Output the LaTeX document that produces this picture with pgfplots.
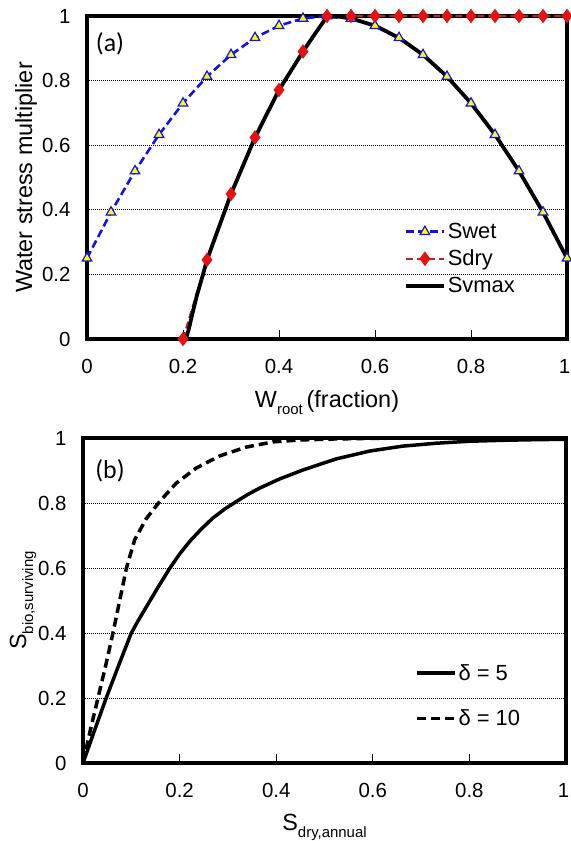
\documentclass[border=0pt]{standalone}
\usepackage{fontspec}
\setmainfont{Liberation Sans}
\newfontfamily\panelfont{Carlito}
\usepackage{pgfplots}
\pgfplotsset{compat=1.18}

\definecolor{swetblue}{RGB}{20,20,225}
\definecolor{swetfill}{RGB}{255,255,0}
\definecolor{sdryline}{RGB}{190,35,35}
\definecolor{sdrymark}{RGB}{225,20,20}

\pgfplotsset{
  panel/.style={
    scale only axis,
    width=480bp, height=323bp,
    xmin=0, xmax=1, ymin=0, ymax=1,
    xtick={0,0.2,0.4,0.6,0.8,1},
    xticklabels={0,0.2,0.4,0.6,0.8,{\hspace*{-5bp}1}},
    ytick={0,0.2,0.4,0.6,0.8,1},
    /pgf/number format/assume math mode=true,
    ticklabel style={font=\fontsize{20.5}{24}\selectfont},
    xticklabel style={yshift=-17bp},
    yticklabel style={xshift=-13bp},
    axis line style={line width=3.5bp, black},
    xtick pos=bottom,
    tick align=inside,
    major tick length=9bp,
    xtick style={line width=0.9bp, black},
    ytick style={draw=none},
    ymajorgrids=true,
    grid style={black, line width=0.8bp, dash pattern=on 1bp off 1bp},
    label style={font=\fontsize{23.5}{27}\selectfont},
    clip=false,
    legend cell align=left,
  },
  leg/.style={
    legend image code/.code={%
      \draw[mark repeat=2, mark phase=2, ##1]
        plot coordinates {(0bp,0bp) (19bp,0bp) (38bp,0bp)};},
  },
}

\begin{document}
\begin{tikzpicture}
\path[use as bounding box] (0,0) rectangle (571bp,-841bp);

% (a) water stress multiplier
\begin{axis}[panel,
  at={(87bp,-339bp)},
  xlabel={W\raisebox{-0.3em}{\fontsize{15}{15}\selectfont root}\,(fraction)},
  ylabel={Water stress multiplier},
  xlabel style={at={(axis description cs:0.5,0)}, anchor=base, yshift=-68bp},
  ylabel style={at={(axis description cs:0,0.5)}, anchor=base, yshift=55bp},
  legend style={at={(0.66,0.365)}, anchor=north west, draw=none, fill=none,
    font=\fontsize{22}{26}\selectfont, row sep=6bp, inner sep=0bp},
  leg,
]
\addplot[swetblue, line width=2.6bp, dash pattern=on 8bp off 4bp,
  mark=triangle*, mark size=5.5bp,
  mark options={solid, fill=swetfill, draw=swetblue, line width=1.2bp}]
coordinates {
  (0,0.25) (0.05,0.3925) (0.1,0.52) (0.15,0.6325) (0.2,0.73) (0.25,0.8125)
  (0.3,0.88) (0.35,0.9325) (0.4,0.97) (0.45,0.9925) (0.5,1) (0.55,0.9925)
  (0.6,0.97) (0.65,0.9325) (0.7,0.88) (0.75,0.8125) (0.8,0.73) (0.85,0.6325)
  (0.9,0.52) (0.95,0.3925) (1,0.25)
};
\addlegendentry{Swet}

\addplot[sdryline, line width=2.2bp, dash pattern=on 7bp off 4bp,
  mark=diamond*, mark size=5.5bp,
  mark options={solid, fill=sdrymark, draw=sdrymark}]
coordinates {
  (0.2,0) (0.25,0.245) (0.3,0.449) (0.35,0.624) (0.4,0.771) (0.45,0.89)
  (0.5,1) (0.55,1) (0.6,1) (0.65,1) (0.7,1) (0.75,1) (0.8,1) (0.85,1)
  (0.9,1) (0.95,1) (1,1)
};
\addlegendentry{Sdry}

\addplot[black, line width=3.8bp, line join=round]
coordinates {
  (0.206,0) (0.212,0.03) (0.219,0.075) (0.229,0.135) (0.2417,0.2)
  (0.25,0.245) (0.3,0.449) (0.35,0.624) (0.4,0.771) (0.45,0.89)
  (0.475,0.945) (0.5,0.998) (0.525,0.998) (0.55,0.9925) (0.6,0.97)
  (0.65,0.9325) (0.7,0.88) (0.75,0.8125) (0.8,0.73) (0.85,0.6325)
  (0.9,0.52) (0.95,0.3925) (1,0.25)
};
\addlegendentry{Svmax}

\node[font=\panelfont\fontsize{26}{30}\selectfont] at (rel axis cs:0.048,0.913) {(a)};
\end{axis}

% (b) surviving biomass
\begin{axis}[panel,
  at={(83bp,-763bp)},
  width=483bp, height=325bp,
  xlabel={S\raisebox{-0.3em}{\fontsize{15}{15}\selectfont dry,annual}},
  ylabel={S\raisebox{-0.3em}{\fontsize{15}{15}\selectfont bio,surviving}},
  xlabel style={at={(axis description cs:0.5,0)}, anchor=base, yshift=-67bp},
  ylabel style={at={(axis description cs:0,0.5)}, anchor=base, yshift=57bp},
  legend style={at={(0.687,0.31)}, anchor=north west, draw=none, fill=none,
    font=\fontsize{22}{26}\selectfont, row sep=24bp, inner sep=0bp},
  leg,
]
\addplot[black, line width=3.5bp, line join=round]
coordinates {
  (0,0) (0.025,0.105) (0.048,0.2) (0.075,0.305) (0.1,0.4) (0.115,0.44)
  (0.131,0.48) (0.155,0.54) (0.18,0.6) (0.2,0.643) (0.221,0.682)
  (0.245,0.72) (0.269,0.754) (0.294,0.782) (0.318,0.805) (0.342,0.827)
  (0.366,0.846) (0.407,0.874) (0.456,0.902) (0.525,0.936) (0.594,0.96)
  (0.662,0.975) (0.732,0.984) (0.8,0.99) (0.87,0.993) (0.94,0.995) (1,0.996)
};
\addlegendentry{δ = 5}

\addplot[black, line width=3.5bp, dash pattern=on 9bp off 5bp]
coordinates {
  (0,0) (0.015,0.1) (0.031,0.2) (0.047,0.3) (0.062,0.4) (0.076,0.5)
  (0.09,0.6) (0.107,0.687) (0.131,0.752) (0.159,0.805) (0.193,0.861)
  (0.235,0.908) (0.283,0.945) (0.338,0.972) (0.393,0.988) (0.45,0.994)
  (0.52,0.997) (0.6,0.999) (0.7,1.0) (1,1.0)
};
\addlegendentry{δ = 10}

\node[font=\panelfont\fontsize{26}{30}\selectfont] at (rel axis cs:0.056,0.90) {(b)};
\end{axis}
\end{tikzpicture}
\end{document}
